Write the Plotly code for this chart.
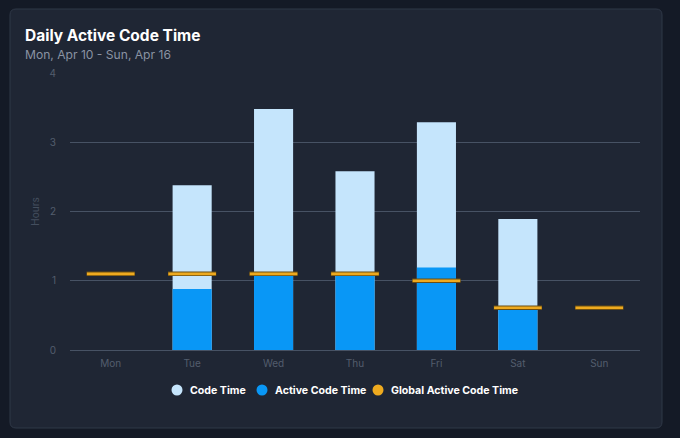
import plotly.graph_objects as go

# daily values (hours)
days = ["Mon", "Tue", "Wed", "Thu", "Fri", "Sat", "Sun"]
code_time = [0, 2.38, 3.48, 2.58, 3.29, 1.89, 0]
active_code_time = [0, 0.88, 1.08, 1.08, 1.19, 0.6, 0]
global_active = [1.1, 1.1, 1.1, 1.1, 1.0, 0.61, 0.61]

light_blue = "#c5e5fc"
blue = "#0997f6"
orange = "#eeaa1f"
grid = "#475264"
tick_grey = "#535d6d"

fig = go.Figure()

# code time is drawn first, active code time sits over it
fig.add_trace(go.Bar(x=days, y=code_time, name="Code Time",
                     marker=dict(color=light_blue, line=dict(width=0)),
                     width=0.48, showlegend=False))
fig.add_trace(go.Bar(x=days, y=active_code_time, name="Active Code Time",
                     marker=dict(color=blue, line=dict(width=0)),
                     width=0.48, showlegend=False))
# global average as short horizontal dashes (line-ew length is 1.4 x size)
fig.add_trace(go.Scatter(x=days, y=global_active, mode="markers",
                         name="Global Active Code Time",
                         marker=dict(symbol="line-ew", size=34.5,
                                     line=dict(color="#6b4e12", width=4.5)),
                         showlegend=False, hoverinfo="skip"))
fig.add_trace(go.Scatter(x=days, y=global_active, mode="markers",
                         name="Global Active Code Time",
                         marker=dict(symbol="line-ew", size=34,
                                     line=dict(color=orange, width=2.6)),
                         showlegend=False))

# plot area is 570 x 277 px, starting at (70, 73)
pw, ph = 570, 277
def px(x):
    return (x - 70) / pw
def py(y):
    return (350 - y) / ph

# card behind the chart
x0, x1 = px(10), px(662)
y0, y1 = py(428), py(9)
rx, ry = 6 / pw, 6 / ph
card = (f"M {x0 + rx},{y1} L {x1 - rx},{y1} Q {x1},{y1} {x1},{y1 - ry} "
        f"L {x1},{y0 + ry} Q {x1},{y0} {x1 - rx},{y0} "
        f"L {x0 + rx},{y0} Q {x0},{y0} {x0},{y0 + ry} "
        f"L {x0},{y1 - ry} Q {x0},{y1} {x0 + rx},{y1} Z")
shapes = [dict(type="path", path=card, xref="paper", yref="paper",
               fillcolor="#1f2634", line=dict(color="#2f3847", width=1),
               layer="below")]

annotations = [
    dict(text="<b>Daily Active Code Time</b>", xref="paper", yref="paper",
         x=px(23), y=py(35), xanchor="left", yanchor="middle",
         showarrow=False, font=dict(size=15.5, color="#ffffff")),
    dict(text="Mon, Apr 10 - Sun, Apr 16", xref="paper", yref="paper",
         x=px(23), y=py(55), xanchor="left", yanchor="middle",
         showarrow=False, font=dict(size=12.1, color="#8a93a3")),
]

# legend drawn by hand so the spacing matches
legend_items = [("Code Time", light_blue, 177), ("Active Code Time", blue, 262),
                ("Global Active Code Time", orange, 378)]
for name, col, cx in legend_items:
    r = 5.5
    shapes.append(dict(type="circle", xref="paper", yref="paper",
                       x0=px(cx - r), x1=px(cx + r), y0=py(390 + r), y1=py(390 - r),
                       fillcolor=col, line=dict(width=0)))
    annotations.append(dict(text=f"<b>{name}</b>", xref="paper", yref="paper",
                            x=px(cx + 11), y=py(390), xanchor="left", yanchor="middle",
                            showarrow=False, font=dict(size=10.6, color="#ffffff")))

fig.update_layout(
    width=680, height=438,
    margin=dict(l=70, r=40, t=73, b=88),
    paper_bgcolor="#141a26",
    plot_bgcolor="rgba(0,0,0,0)",
    barmode="overlay",
    font=dict(family="Inter, Noto Sans, sans-serif", color=tick_grey, size=10),
    shapes=shapes,
    annotations=annotations,
    showlegend=False,
    bargap=0.5,
)

fig.update_xaxes(showgrid=False, showline=False, zeroline=False, ticks="",
                 ticklabelstandoff=6,
                 tickfont=dict(size=10, color=tick_grey),
                 range=[-0.5, 6.5])
fig.update_yaxes(range=[0, 4], dtick=1, showgrid=True, gridcolor=grid, gridwidth=1,
                 zeroline=True, zerolinecolor=grid, zerolinewidth=1,
                 showline=False, ticks="", ticklabelstandoff=13,
                 tickfont=dict(size=10, color=tick_grey),
                 title=dict(text="Hours", font=dict(size=10, color="#444e5e"), standoff=8))

fig.write_html("out.html", config={"displayModeBar": False},
               post_script="document.body.style.margin='0';")
